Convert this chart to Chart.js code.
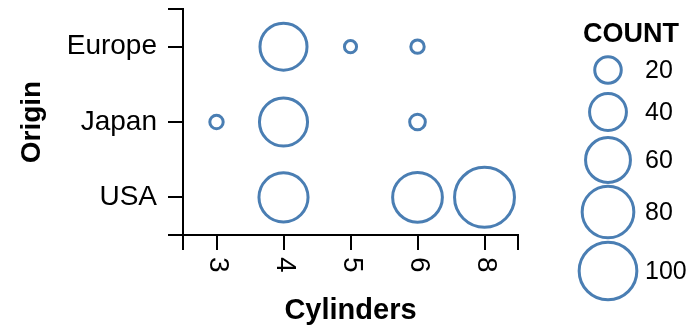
<!DOCTYPE html>
<html><head><meta charset="utf-8">
<script src="https://cdn.jsdelivr.net/npm/chart.js@4/dist/chart.umd.min.js"></script>
<style>html,body{margin:0;padding:0;background:#fff}#wrap{width:693px;height:328px}</style>
</head><body><div id="wrap"><canvas id="c" width="693" height="328"></canvas></div>
<script>
// ---- data ----
const cylinders = ['3', '4', '5', '6', '8'];
const origins = ['Europe', 'Japan', 'USA'];
const europeCounts = [null, 66, 3, 4, null];
const japanCounts  = [4, 69, null, 6, null];
const usaCounts    = [null, 72, null, 74, 108];
const legendValues = [20, 40, 60, 80, 100];
const legendTitle = 'COUNT';
const xTitle = 'Cylinders';
const yTitle = 'Origin';

// ---- style / layout ----
const FONT = '"Liberation Sans", Arial, Helvetica, sans-serif';
const MARK = '#4a7eb3';
const AXIS = '#000';
const TEXT = '#000';
const LEGEND_X = 608, LEGEND_LABEL_X = 645, LEGEND_TITLE_X = 583, LEGEND_TITLE_Y = 35;
const LEGEND_ROW_Y = [70, 112, 160, 212, 271];
const sizeScale = c => Math.sqrt(12 + 8.2 * c);

const rows = { Europe: europeCounts, Japan: japanCounts, USA: usaCounts };
const points = [];
origins.forEach(o => {
  rows[o].forEach((c, i) => {
    if (c != null) points.push({ x: cylinders[i], y: o, r: sizeScale(c), count: c });
  });
});

const extras = {
  id: 'extras',
  afterDraw(chart) {
    const ctx = chart.ctx;
    const xs = chart.scales.x;
    const ca = chart.chartArea;
    ctx.save();
    // outer ticks
    ctx.strokeStyle = AXIS; ctx.lineWidth = 2;
    ctx.beginPath();
    ctx.moveTo(ca.left, ca.top); ctx.lineTo(ca.left - 15, ca.top);
    ctx.moveTo(ca.left, ca.bottom); ctx.lineTo(ca.left - 15, ca.bottom);
    ctx.moveTo(ca.left, ca.bottom); ctx.lineTo(ca.left, ca.bottom + 15);
    ctx.moveTo(ca.right, ca.bottom); ctx.lineTo(ca.right, ca.bottom + 15);
    ctx.stroke();
    // x tick labels rotated clockwise
    ctx.fillStyle = TEXT;
    ctx.font = '28px ' + FONT;
    ctx.textAlign = 'left'; ctx.textBaseline = 'middle';
    cylinders.forEach((lab, i) => {
      const x = xs.getPixelForTick(i);
      ctx.save();
      ctx.translate(x + 1, ca.bottom + 22);
      ctx.rotate(Math.PI / 2);
      ctx.fillText(lab, 0, 0);
      ctx.restore();
    });
    // legend
    ctx.font = 'bold 27px ' + FONT;
    ctx.textBaseline = 'middle';
    ctx.fillText(legendTitle, LEGEND_TITLE_X, LEGEND_TITLE_Y);
    ctx.font = '25px ' + FONT;
    legendValues.forEach((v, i) => {
      const y = LEGEND_ROW_Y[i];
      ctx.beginPath();
      ctx.arc(LEGEND_X, y, sizeScale(v), 0, Math.PI * 2);
      ctx.strokeStyle = MARK; ctx.lineWidth = 3;
      ctx.stroke();
      ctx.fillStyle = TEXT;
      ctx.fillText(String(v), LEGEND_LABEL_X, y + 1);
    });
    ctx.restore();
  }
};

new Chart(document.getElementById('c'), {
  type: 'bubble',
  data: { datasets: [{
    data: points,
    backgroundColor: 'rgba(0,0,0,0)',
    borderColor: MARK,
    borderWidth: 3,
    hoverBorderWidth: 3,
    clip: false
  }]},
  options: {
    responsive: false,
    animation: false,
    events: [],
    layout: { autoPadding: false, padding: { left: 0, right: 175, top: 9, bottom: 0 } },
    plugins: { legend: { display: false }, tooltip: { enabled: false } },
    scales: {
      x: {
        type: 'category', labels: cylinders, offset: true, position: 'bottom',
        grid: { drawOnChartArea: false, drawTicks: true, tickLength: 15, color: AXIS, lineWidth: 2, offset: false },
        border: { display: true, color: AXIS, width: 2 },
        ticks: { display: false },
        title: { display: true, text: xTitle, color: TEXT, font: { family: FONT, size: 29, weight: 'bold' }, padding: { top: 0, bottom: 0 } },
        afterFit: s => { s.height = 93; s.paddingLeft = 0; s.paddingRight = 0; }
      },
      y: {
        type: 'category', labels: origins, offset: true, position: 'left',
        grid: { drawOnChartArea: false, drawTicks: true, tickLength: 15, color: AXIS, lineWidth: 2, offset: false },
        border: { display: true, color: AXIS, width: 2 },
        ticks: { color: TEXT, font: { family: FONT, size: 28 }, padding: 11 },
        title: { display: true, text: yTitle, color: TEXT, font: { family: FONT, size: 28, weight: 'bold' }, padding: { top: 15, bottom: 0 } },
        afterFit: s => { s.width = 183; s.paddingTop = 0; s.paddingBottom = 0; }
      }
    }
  },
  plugins: [extras]
});
</script>
</body></html>
